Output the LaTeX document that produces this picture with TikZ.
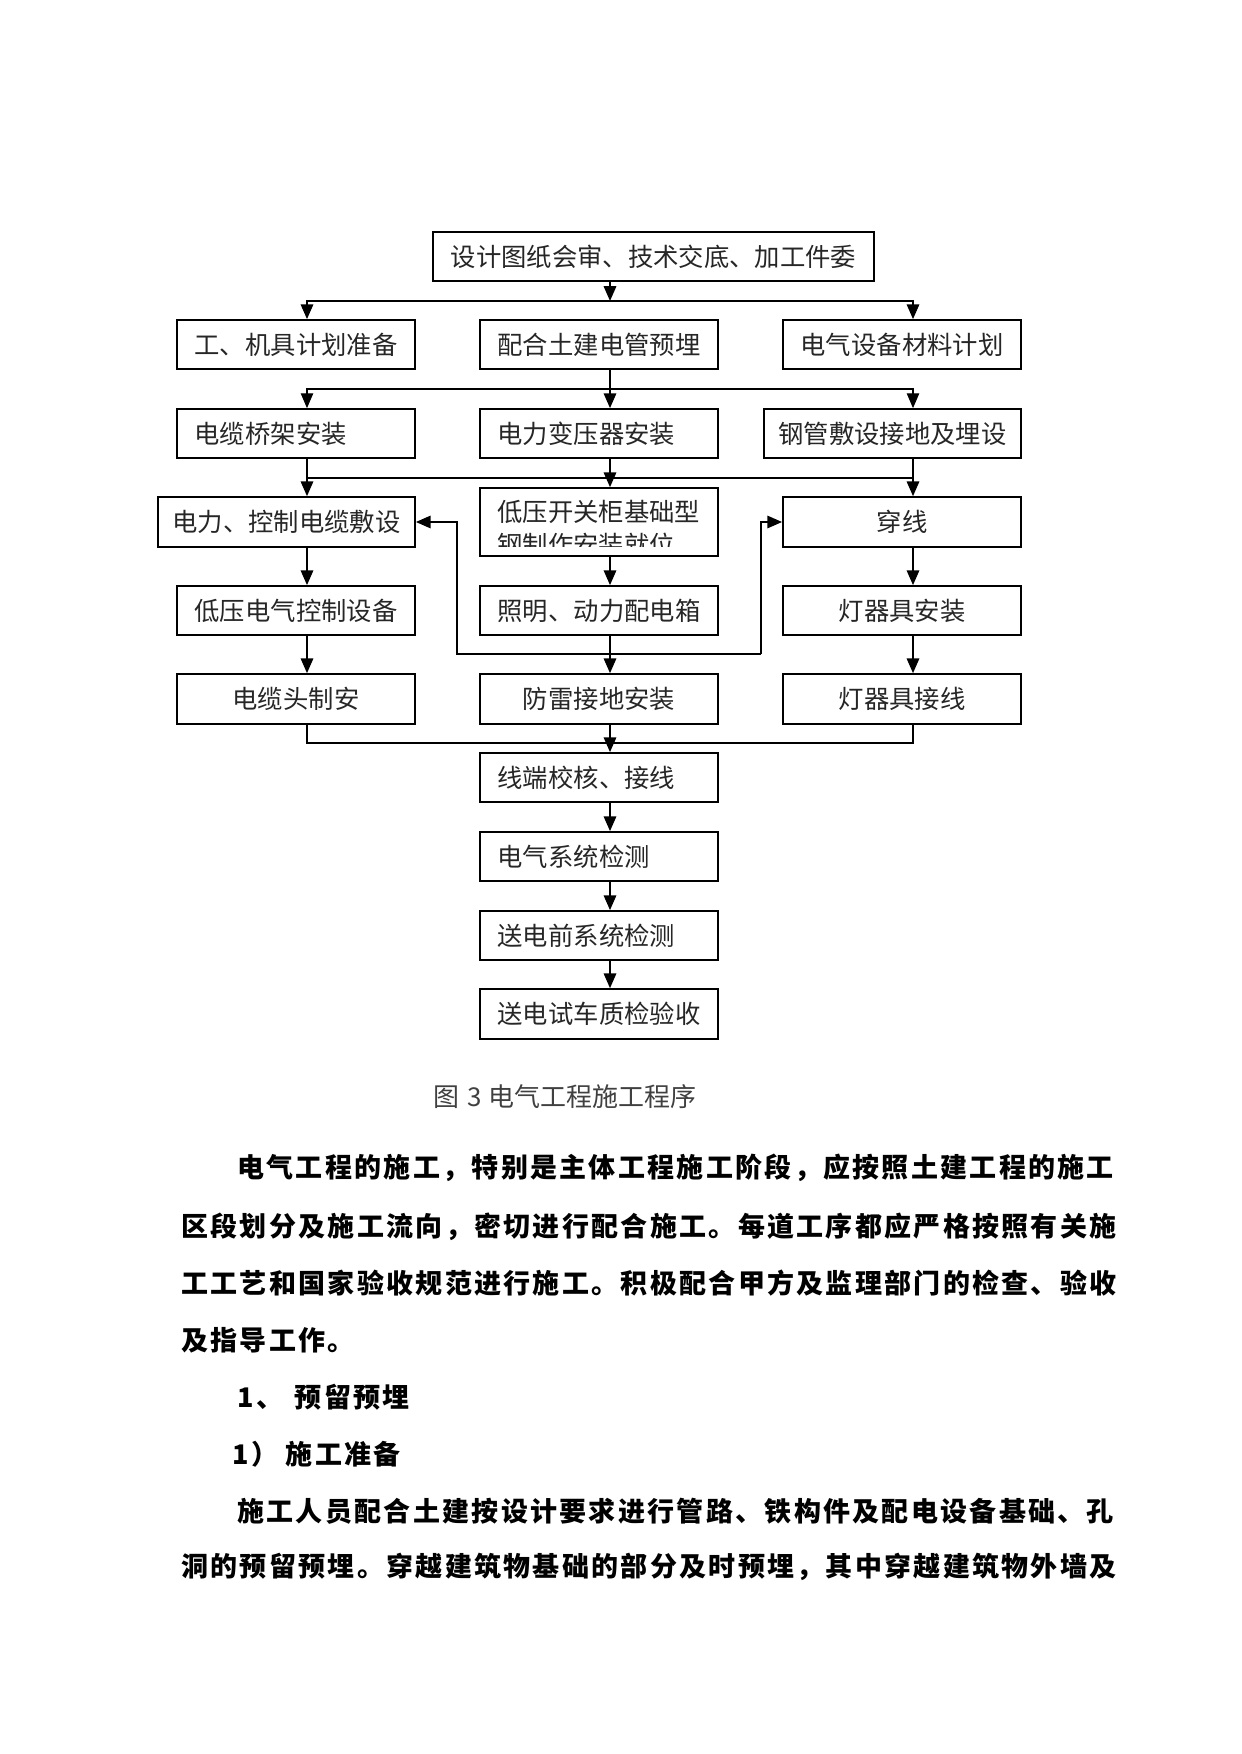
\documentclass[tikz,border=0pt]{standalone}
\usepackage{fontspec}
\setmainfont{Noto Sans CJK SC}
\newfontfamily\bodyfont{Noto Sans CJK SC}[LetterSpace=8.5]
\usetikzlibrary{arrows.meta}
\newcommand{\boxfont}{\fontsize{12.2pt}{14pt}\selectfont}
\newcommand{\parfont}{\bodyfont\bfseries\fontsize{13pt}{15pt}\selectfont}
\tikzset{
  box/.style={draw, line width=0.8pt, minimum width=40.3mm, minimum height=8.3mm,
    inner sep=0pt, font=\boxfont, text=black!85},
  lbox/.style={box, inner xsep=3mm, text width=34.3mm, align=left},
  conn/.style={line width=0.9pt},
  arr/.style={conn, -{Triangle[length=2.5mm,width=2.1mm]}},
  thinconn/.style={line width=0.5pt},
  thinarr/.style={thinconn, -{Triangle[length=2.5mm,width=2.1mm]}},
  parline/.style={anchor=west, inner sep=0pt, font=\parfont},
}
\begin{document}
\begin{tikzpicture}[x=0.16922mm, y=-0.16922mm]
\useasboundingbox (0,0) rectangle (1241,1754);%

% Drawing the boxes of the flow chart
\node[box, minimum width=74.6mm] (design) at (653.5,256.5) {设计图纸会审、技术交底、加工件委};%
\node[box] (tools) at (296,344.5) {工、机具计划准备};%
\node[box] (conduit) at (599,344.5) {配合土建电管预埋};%
\node[box] (material) at (902,344.5) {电气设备材料计划};%
\node[lbox] (tray) at (296,433.5) {电缆桥架安装};%
\node[lbox] (transformer) at (599,433.5) {电力变压器安装};%
\node[box, minimum width=43.5mm] (steelpipe) at (892.5,433.5) {钢管敷设接地及埋设};%
\node[box, minimum width=43.5mm, minimum height=8.45mm] (cablelay) at (286.5,522) {电力、控制电缆敷设};%
\node[box, minimum height=11.5mm] (swbase) at (599,522) {};%
\node[box, minimum height=8.45mm] (wiring) at (902,522) {穿线};%
\node[box] (lvctrl) at (296,610.5) {低压电气控制设备};%
\node[lbox] (lighting) at (599,610.5) {照明、动力配电箱};%
\node[box] (fixture) at (902,610.5) {灯器具安装};%
\node[box, minimum height=8.45mm] (cablehead) at (296,699) {电缆头制安};%
\node[box, minimum height=8.45mm] (lightning) at (599,699) {防雷接地安装};%
\node[box, minimum height=8.45mm] (fixturewire) at (902,699) {灯器具接线};%
\node[lbox] (terminal) at (599,777.5) {线端校核、接线};%
\node[lbox] (systest) at (599,856.5) {电气系统检测};%
\node[lbox] (pretest) at (599,935.5) {送电前系统检测};%
\node[lbox, minimum height=8.45mm] (trialrun) at (599,1014) {送电试车质检验收};%

% Two line text of the switchgear box, cut at its lower part
\begin{scope}
\clip (480,488) rectangle (718,546);%
\node[anchor=west, inner sep=0pt, font=\boxfont, text=black!85] (swbaseA) at (497,512) {低压开关柜基础型};%
\node[anchor=west, inner sep=0pt, font=\boxfont, text=black!85] (swbaseB) at (497,545) {钢制作安装就位};%
\end{scope}

% Columns of the connectors
\coordinate (colL) at (307,0);%
\coordinate (colC) at (610,0);%
\coordinate (colR) at (913,0);%
\coordinate (splitA) at (610,301);%
\coordinate (splitB) at (610,389);%
\coordinate (mergeA) at (0,478);%
\coordinate (mergeB) at (0,743);%
\coordinate (loopL) at (457,654);%
\coordinate (loopR) at (761,654);%

% Drawing first and second level
\draw[arr] (design.south -| colC) -- (splitA);%
\draw[arr] (splitA) -| (tools.north -| colL);%
\draw[arr] (splitA) -| (material.north -| colR);%
\draw[arr] (conduit.south -| colC) -- (transformer.north -| colC);%
\draw[thinarr] (splitB) -| (tray.north -| colL);%
\draw[thinarr] (splitB) -| (steelpipe.north -| colR);%

% Drawing third level
\draw[conn] (colL |- mergeA) -- (colR |- mergeA);%
\draw[arr] (tray.south -| colL) -- (cablelay.north -| colL);%
\draw[arr] (transformer.south -| colC) -- (swbase.north -| colC);%
\draw[arr] (steelpipe.south -| colR) -- (wiring.north -| colR);%

% Drawing fourth and fifth level
\draw[arr] (cablelay.south -| colL) -- (lvctrl.north -| colL);%
\draw[arr] (swbase.south -| colC) -- (lighting.north -| colC);%
\draw[arr] (wiring.south -| colR) -- (fixture.north -| colR);%
\draw[arr] (lvctrl.south -| colL) -- (cablehead.north -| colL);%
\draw[arr] (lighting.south -| colC) -- (lightning.north -| colC);%
\draw[arr] (fixture.south -| colR) -- (fixturewire.north -| colR);%
\draw[arr] (loopR) -- (loopL) |- (cablelay.east);%
\draw[arr] (loopR) |- (wiring.west);%

% Drawing the last part
\draw[thinconn] (cablehead.south -| colL) |- (colR |- mergeB) -- (fixturewire.south -| colR);%
\draw[arr] (lightning.south -| colC) -- (terminal.north -| colC);%
\draw[arr] (terminal.south -| colC) -- (systest.north -| colC);%
\draw[arr] (systest.south -| colC) -- (pretest.north -| colC);%
\draw[arr] (pretest.south -| colC) -- (trialrun.north -| colC);%

% Caption
\node[anchor=west, inner sep=0pt, font=\fontsize{12.5pt}{14pt}\selectfont, text=black!75] (caption) at (433,1097) {图\hspace{1.3mm}3\hspace{1.2mm}电气工程施工程序};%

% Text below the picture
\node[parline] (line1) at (237,1168) {电气工程的施工，特别是主体工程施工阶段，应按照土建工程的施工};%
\node[parline] (line2) at (181,1227) {区段划分及施工流向，密切进行配合施工。每道工序都应严格按照有关施};%
\node[parline] (line3) at (181,1283) {工工艺和国家验收规范进行施工。积极配合甲方及监理部门的检查、验收};%
\node[parline] (line4) at (181,1340) {及指导工作。};%
\node[parline] (line5) at (237,1397) {1、\hspace{2mm}预留预埋};%
\node[parline] (line6) at (232,1454) {1）\hspace{1.3mm}施工准备};%
\node[parline] (line7) at (237,1511) {施工人员配合土建按设计要求进行管路、铁构件及配电设备基础、孔};%
\node[parline] (line8) at (181,1567) {洞的预留预埋。穿越建筑物基础的部分及时预埋，其中穿越建筑物外墙及};%
\end{tikzpicture}
\end{document}
